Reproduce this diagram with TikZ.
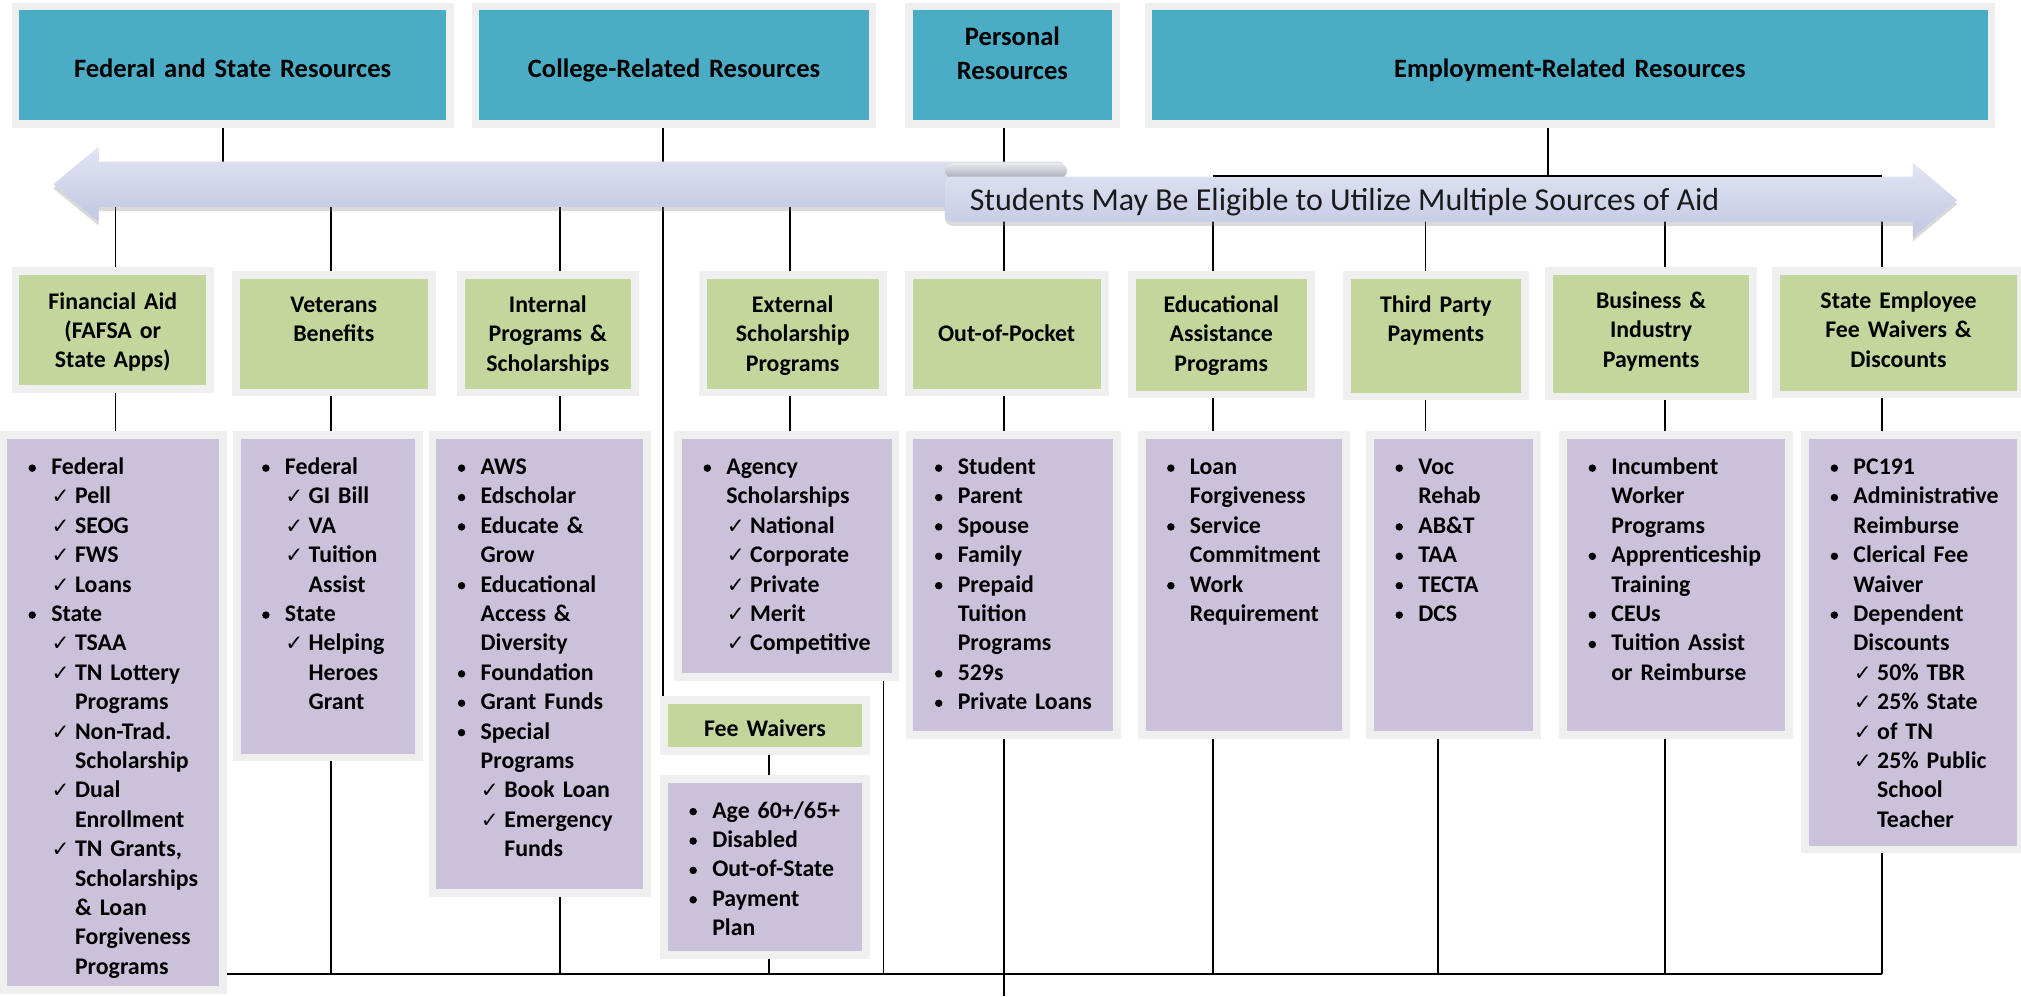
\documentclass[tikz,border=0pt]{standalone}
\usepackage{fontspec}
\setmainfont{Carlito}
\newfontfamily\symf{DejaVu Sans}
\usetikzlibrary{fit,shadows,calc}
\definecolor{tealc}{HTML}{4BACC6}
\definecolor{greenc}{HTML}{C3D69B}
\definecolor{purplec}{HTML}{CCC1DA}
\definecolor{framec}{HTML}{EFEFEF}
\definecolor{arrtop}{HTML}{E1E5F3}
\definecolor{arrbot}{HTML}{C1C7E3}
\definecolor{captop}{HTML}{E8EAF0}
\definecolor{capbot}{HTML}{A9ADB9}
\definecolor{arrtext}{HTML}{1A1A1A}
\pgfdeclarelayer{bg}\pgfsetlayers{bg,main}
\setlength\parskip{0pt}
\newcommand\chk{{\symf\fontsize{8.3}{11.4}\selectfont ✓}}
\newcommand\bul{\tikz[baseline=0pt]\fill (0pt,2.5pt) circle[radius=1.45pt];}
\newcommand\B[1]{\par\noindent\strut\rlap{\hspace{9.6pt}\makebox[0pt]{\bul}}\hspace{17pt}#1}
\newcommand\Bt[1]{\par\noindent\strut\hspace{17pt}#1}
\newcommand\C[1]{\par\noindent\strut\rlap{\hspace{20.6pt}\makebox[0pt]{\chk}}\hspace{26.2pt}#1}
\newcommand\Ct[1]{\par\noindent\strut\hspace{26.2pt}#1}
\begin{document}
\begin{tikzpicture}[x=0.5pt,y=-0.5pt,
  frm/.style={draw=framec, line width=3pt, inner sep=1.5pt},
  topbox/.style={frm, fill=tealc},
  grbox/.style={frm, fill=greenc},
  lsbox/.style={frm, fill=purplec},
  ttl/.style={font=\fontsize{10.3}{12.95}\selectfont\bfseries, inner sep=0, align=center, text width=170pt, anchor=north},
  gtx/.style={font=\fontsize{9.25}{11.4}\selectfont\bfseries, inner sep=0, align=center, text width=95pt, anchor=north},
  ltx/.style={font=\fontsize{9.25}{11.4}\selectfont\bfseries, inner sep=0, text width=100pt, anchor=north west},
  conn/.style={line width=0.65pt, black},
  busline/.style={line width=0.85pt, black},
  arrowfill/.style={top color=arrtop, bottom color=arrbot, drop shadow={shadow xshift=0pt, shadow yshift=-1.6pt, opacity=0.3, fill=gray}}
]
\useasboundingbox (0,0) rectangle (1568,773);

% ---- top resource boxes
\node[topbox, fit={(15,8) (346,93)}] (tA) {};
\node[ttl] (tAt) at (180.5,41.9) {\strut Federal and State Resources};
\node[topbox, fit={(372,8) (674,93)}] (tB) {};
\node[ttl] (tBt) at (523,41.9) {\strut College-Related Resources};
\node[topbox, fit={(708,8) (863,93)}] (tC) {};
\node[ttl] (tCt) at (785.5,16.9) {\strut Personal\\Resources};
\node[topbox, fit={(894,8) (1542,93)}] (tD) {};
\node[ttl] (tDt) at (1218,41.9) {\strut Employment-Related Resources};

% ---- green category boxes
\node[grbox, fit={(15,213.4) (160,298.7)}] (g1) {};
\node[gtx] (g1t) at (87.5,223.5) {\strut Financial Aid\\(FAFSA or\\State Apps)};
\node[grbox, fit={(186.3,216.5) (332.2,301.6)}] (g2) {};
\node[gtx] (g2t) at (259,226) {\strut Veterans\\Benefits};
\node[grbox, fit={(360.7,216.5) (489.6,301.6)}] (g3) {};
\node[gtx] (g3t) at (425,226) {\strut Internal\\Programs \&\\Scholarships};
\node[grbox, fit={(548.5,216.5) (682,301.6)}] (g4) {};
\node[gtx] (g4t) at (615,226) {\strut External\\Scholarship\\Programs};
\node[grbox, fit={(708,216.5) (854.5,301.6)}] (g5) {};
\node[gtx] (g5t) at (781,248.7) {\strut Out-of-Pocket};
\node[grbox, fit={(881,216.5) (1014,303)}] (g6) {};
\node[gtx] (g6t) at (947.5,226) {\strut Educational\\Assistance\\Programs};
\node[grbox, fit={(1048,216.5) (1180,304.7)}] (g7) {};
\node[gtx] (g7t) at (1114,226) {\strut Third Party\\Payments};
\node[grbox, fit={(1204.8,213.4) (1357,304.7)}] (g8) {};
\node[gtx] (g8t) at (1281,222.8) {\strut Business \&\\Industry\\Payments};
\node[grbox, fit={(1381,213.4) (1565,303)}] (g9) {};
\node[gtx] (g9t) at (1473,222.8) {\strut State Employee\\Fee Waivers \&\\Discounts};
\node[grbox, fit={(518.2,546.2) (668.8,579.5)}] (gF) {};
\node[gtx] (gFt) at (593.5,555.4) {\strut Fee Waivers};

% ---- purple list boxes
\node[lsbox, fit={(5.4,340.6) (170.2,764.8)}] (l1) {};
\node[ltx] (l1t) at (5.4,345) {\B{Federal}\C{Pell}\C{SEOG}\C{FWS}\C{Loans}\B{State}\C{TSAA}\C{TN Lottery}\Ct{Programs}\C{Non-Trad.}\Ct{Scholarship}\C{Dual}\Ct{Enrollment}\C{TN Grants,}\Ct{Scholarships}\Ct{\& Loan}\Ct{Forgiveness}\Ct{Programs}};
\node[lsbox, fit={(186.7,340.6) (322,584.7)}] (l2) {};
\node[ltx] (l2t) at (186.7,345) {\B{Federal}\C{GI Bill}\C{VA}\C{Tuition}\Ct{Assist}\B{State}\C{Helping}\Ct{Heroes}\Ct{Grant}};
\node[lsbox, fit={(338.5,340.6) (498.9,689.6)}] (l3) {};
\node[ltx] (l3t) at (338.5,345) {\B{AWS}\B{Edscholar}\B{Educate \&}\Bt{Grow}\B{Educational}\Bt{Access \&}\Bt{Diversity}\B{Foundation}\B{Grant Funds}\B{Special}\Bt{Programs}\C{Book Loan}\C{Emergency}\Ct{Funds}};
\node[lsbox, fit={(529.2,340.6) (691.7,522)}] (l4) {};
\node[ltx] (l4t) at (529.2,345) {\B{Agency}\Bt{Scholarships}\C{National}\C{Corporate}\C{Private}\C{Merit}\C{Competitive}};
\node[lsbox, fit={(518.2,607.5) (668.8,737.8)}] (lF) {};
\node[ltx] (lFt) at (518.2,611.5) {\B{Age 60+/65+}\B{Disabled}\B{Out-of-State}\B{Payment}\Bt{Plan}};
\node[lsbox, fit={(708.7,340.6) (863.8,567)}] (l5) {};
\node[ltx] (l5t) at (708.7,345) {\B{Student}\B{Parent}\B{Spouse}\B{Family}\B{Prepaid}\Bt{Tuition}\Bt{Programs}\B{529s}\B{Private Loans}};
\node[lsbox, fit={(888.8,340.6) (1041,567)}] (l6) {};
\node[ltx] (l6t) at (888.8,345) {\B{Loan}\Bt{Forgiveness}\B{Service}\Bt{Commitment}\B{Work}\Bt{Requirement}};
\node[lsbox, fit={(1066,340.6) (1189.3,567)}] (l7) {};
\node[ltx] (l7t) at (1066,345) {\B{Voc}\Bt{Rehab}\B{AB\&T}\B{TAA}\B{TECTA}\B{DCS}};
\node[lsbox, fit={(1215.8,340.6) (1385,567)}] (l8) {};
\node[ltx] (l8t) at (1215.8,345) {\B{Incumbent}\Bt{Worker}\Bt{Programs}\B{Apprenticeship}\Bt{Training}\B{CEUs}\B{Tuition Assist}\Bt{or Reimburse}};
\node[lsbox, fit={(1403.6,340.6) (1565,656)}] (l9) {};
\node[ltx] (l9t) at (1403.6,345) {\B{PC191}\B{Administrative}\Bt{Reimburse}\B{Clerical Fee}\Bt{Waiver}\B{Dependent}\Bt{Discounts}\C{50\% TBR}\C{25\% State}\C{of TN}\C{25\% Public}\Ct{School}\Ct{Teacher}};

% ---- column coordinates
\coordinate (cA) at (173,0);
\coordinate (cB) at (514.6,0);
\coordinate (cE) at (1201,0);
\coordinate (c1) at (89.5,0);
\coordinate (c2) at (256.8,0);
\coordinate (c3) at (434.7,0);
\coordinate (c4) at (613,0);
\coordinate (c4b) at (685.5,0);
\coordinate (cF) at (596.5,0);
\coordinate (c5) at (779,0);
\coordinate (c6) at (941,0);
\coordinate (c7) at (1106,0);
\coordinate (c7b) at (1115.7,0);
\coordinate (c8) at (1292,0);
\coordinate (c9) at (1460,0);
\coordinate (amL) at (0,143);
\coordinate (amR) at (0,155);
\coordinate (eh) at (0,136.8);
\coordinate (bus) at (0,755.7);
\coordinate (bot) at (0,773);

% ---- connectors (behind)
\begin{pgfonlayer}{bg}
\draw[conn] (cA |- tA.south) -- (cA |- amL);
\draw[conn] (cB |- tB.south) -- (cB |- gF.north);
\draw[conn] (c5 |- tC.south) -- (c5 |- g5.north);
\draw[conn] (cE |- tD.south) -- (cE |- eh);
\draw[conn] (c1 |- amL) -- (c1 |- g1.north);
\draw[conn] (c1 |- g1.south) -- (c1 |- l1.north);
\draw[conn] (c2 |- amL) -- (c2 |- g2.north);
\draw[conn] (c2 |- g2.south) -- (c2 |- l2.north);
\draw[conn] (c2 |- l2.south) -- (c2 |- bus);
\draw[conn] (c3 |- amL) -- (c3 |- g3.north);
\draw[conn] (c3 |- g3.south) -- (c3 |- l3.north);
\draw[conn] (c3 |- l3.south) -- (c3 |- bus);
\draw[conn] (c4 |- amL) -- (c4 |- g4.north);
\draw[conn] (c4 |- g4.south) -- (c4 |- l4.north);
\draw[conn] (c4b |- l4.south) -- (c4b |- bus);
\draw[conn] (cF |- gF.south) -- (cF |- lF.north);
\draw[conn] (cF |- lF.south) -- (cF |- bus);
\draw[conn] (c5 |- g5.south) -- (c5 |- l5.north);
\draw[conn] (c5 |- l5.south) -- (c5 |- bot);
\draw[conn] (c6 |- amR) -- (c6 |- g6.north);
\draw[conn] (c6 |- g6.south) -- (c6 |- l6.north);
\draw[conn] (c6 |- l6.south) -- (c6 |- bus);
\draw[conn] (c7 |- amR) -- (c7 |- g7.north);
\draw[conn] (c7 |- g7.south) -- (c7 |- l7.north);
\draw[conn] (c7b |- l7.south) -- (c7b |- bus);
\draw[conn] (c8 |- amR) -- (c8 |- g8.north);
\draw[conn] (c8 |- g8.south) -- (c8 |- l8.north);
\draw[conn] (c8 |- l8.south) -- (c8 |- bus);
\draw[conn] (c9 |- amR) -- (c9 |- g9.north);
\draw[conn] (c9 |- g9.south) -- (c9 |- l9.north);
\draw[conn] (c9 |- l9.south) -- (c9 |- bus);
\draw[busline] (l1.east |- bus) -- (c9 |- bus);
\end{pgfonlayer}

% ---- the two-way arrow
\path[arrowfill] (41.4,143) -- (76.5,113.8) -- (76.5,125.4) -- (821,125.4)
  to[out=0,in=90] (826,130.4) -- (826,155.5) to[out=-90,in=0] (821,160.5)
  -- (76.5,160.5) -- (76.5,171.8) -- cycle;
\path[top color=captop, bottom color=capbot, rounded corners=3pt] (733,126.6) rectangle (828,138);
\path[arrowfill] (738,137) -- (1484,137) -- (1484,126.2) -- (1518.5,155.2)
  -- (1484,184.1) -- (1484,172) -- (739,172) to[out=180,in=-90] (733,166)
  -- (733,142) to[out=90,in=180] (738,137) -- cycle;
\node[font=\fontsize{12.4}{14}\selectfont, text=arrtext, inner sep=0, anchor=base west] (arrt) at (752,163) {Students May Be Eligible to Utilize Multiple Sources of Aid};
\draw[conn] (c6 |- eh) -- (c9 |- eh);
\end{tikzpicture}
\end{document}
